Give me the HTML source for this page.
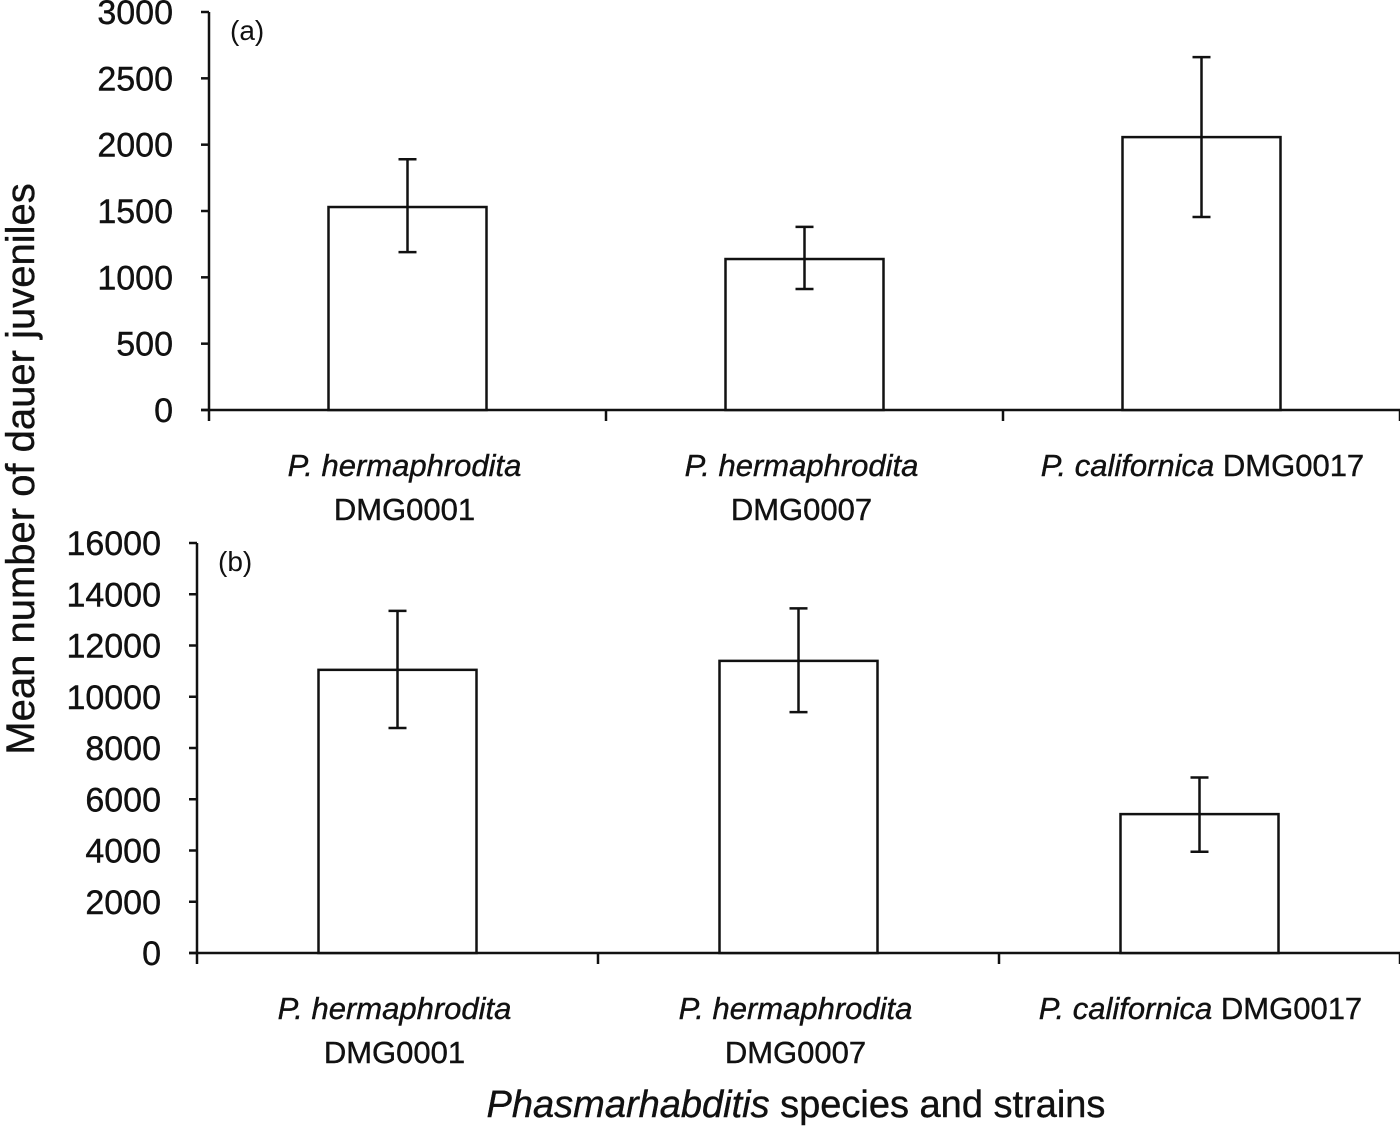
<!DOCTYPE html>
<html><head><meta charset="utf-8"><style>
html,body{margin:0;padding:0;background:#fff;}
svg{display:block;font-family:"Liberation Sans",sans-serif;}
</style></head><body>
<svg id="chart" width="1400" height="1127" viewBox="0 0 1400 1127" xmlns="http://www.w3.org/2000/svg">
<text transform="translate(34,469) rotate(-90)" text-anchor="middle" font-size="40" fill="#111" stroke="#111" stroke-width="0.4">Mean number of dauer juveniles</text>
<text x="796" y="1117" text-anchor="middle" font-size="38" fill="#111" stroke="#111" stroke-width="0.4"><tspan font-style="italic">Phasmarhabditis</tspan> species and strains</text>
</svg>
<script>
const categories = ["DMG0001","DMG0007","DMG0017"];
const speciesNames = ["P. hermaphrodita","P. hermaphrodita","P. californica"];
const valuesA = [1530, 1138, 2057];
const errHiA = [1890, 1380, 2660];
const errLoA = [1190, 912, 1455];
const ticksA = [0,500,1000,1500,2000,2500,3000];
const valuesB = [11050, 11400, 5420];
const errHiB = [13350, 13450, 6850];
const errLoB = [8780, 9400, 3950];
const ticksB = [0,2000,4000,6000,8000,10000,12000,14000,16000];

const svg = document.getElementById('chart');
const NS = 'http://www.w3.org/2000/svg';
function mk(tag, attrs, parent){const e=document.createElementNS(NS,tag);for(const k in attrs)e.setAttribute(k,attrs[k]);(parent||svg).appendChild(e);return e;}

function panel(p){
  const g = mk('g',{});
  
  
  const y = v => p.y0 - (v/p.max)*(p.y0-p.yTop);
  const catW = (p.x1-p.x0)/3;
  const st = {stroke:'#111','stroke-width':2.5,fill:'none'};
  const ya = mk('line',Object.assign({x1:p.x0,y1:p.yTop,x2:p.x0,y2:p.y0},st),g);
  
  
  const xa = mk('line',Object.assign({x1:p.x0-8,y1:p.y0,x2:p.x1,y2:p.y0},st),g);
  
  
  p.ticks.forEach(t=>{
    mk('line',Object.assign({x1:p.x0-8,y1:y(t),x2:p.x0,y2:y(t)},st),g);
    const tx = mk('text',{x:p.x0-36,y:y(t)+12,'text-anchor':'end','font-size':34,fill:'#111',stroke:'#111','stroke-width':0.4},g);
    tx.textContent = t;
    
    
  });
  for(let i=0;i<=3;i++){
    const xx = p.x0+catW*i;
    mk('line',Object.assign({x1:xx,y1:p.y0,x2:xx,y2:p.y0+11},st),g);
  }
  const lab = mk('text',{x:p.x0+21,y:p.yTop+28,'font-size':28,fill:'#111'},g);
  lab.textContent = p.label;
  
  
  p.values.forEach((v,i)=>{
    const cx = p.x0+catW*(i+0.5);
    const bw = 158;
    const r = mk('rect',{x:cx-bw/2,y:y(v),width:bw,height:p.y0-y(v),fill:'#fff',stroke:'#111','stroke-width':2.5},g);
    
    
    const eb = mk('path',{d:`M${cx},${y(p.hi[i])}V${y(p.lo[i])}M${cx-9},${y(p.hi[i])}H${cx+9}M${cx-9},${y(p.lo[i])}H${cx+9}`,stroke:'#111','stroke-width':2.5,fill:'none'},g);
    
    
    const ts = {'font-size':31,fill:'#111',stroke:'#111','stroke-width':0.4,'text-anchor':'middle'};
    if(i<2){
      const t1 = mk('text',Object.assign({x:cx-3,y:p.y0+66,'font-style':'italic'},ts),g);
      t1.textContent = speciesNames[i];
      
      
      const t2 = mk('text',Object.assign({x:cx-3,y:p.y0+110},ts),g);
      t2.textContent = categories[i];
      
      
    } else {
      const t = mk('text',Object.assign({x:cx+1,y:p.y0+66},ts),g);
      const a = mk('tspan',{'font-style':'italic'},t); a.textContent = speciesNames[i]+' ';
      const b = mk('tspan',{},t); b.textContent = categories[i];
      
      
    }
  });
}
panel({name:'panel-a',label:'(a)',x0:209,x1:1400,y0:410,yTop:12,max:3000,ticks:ticksA,values:valuesA,hi:errHiA,lo:errLoA});
panel({name:'panel-b',label:'(b)',x0:197,x1:1400,y0:953,yTop:543,max:16000,ticks:ticksB,values:valuesB,hi:errHiB,lo:errLoB});
</script>
</body></html>
